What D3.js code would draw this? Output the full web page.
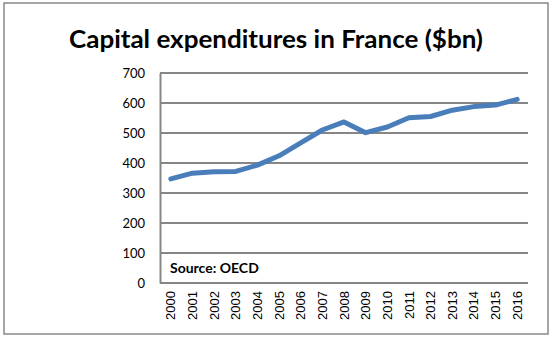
<!DOCTYPE html>
<html>
<head>
<meta charset="utf-8">
<script src="https://cdn.jsdelivr.net/npm/d3@7"></script>
<style>
  body { margin: 0; background: #fff; }
  text { font-family: Lato, "Open Sans", sans-serif; }
</style>
</head>
<body>
<script>
// yearly capital expenditures, $bn
var years = ["2000","2001","2002","2003","2004","2005","2006","2007","2008",
             "2009","2010","2011","2012","2013","2014","2015","2016"];
var capex = [347, 366, 371, 372, 393, 424, 467, 510, 537,
             501, 520, 551, 555, 576, 588, 593, 612];
var yTicks = [0, 100, 200, 300, 400, 500, 600, 700];

var width = 551, height = 337;

var svg = d3.select("body").append("svg")
    .attr("width", width)
    .attr("height", height);

// chart frame
svg.append("rect")
    .attr("x", 4).attr("y", 3)
    .attr("width", 544).attr("height", 331)
    .attr("fill", "#fff")
    .attr("stroke", "#888")
    .attr("stroke-width", 1.5);

svg.append("text")
    .attr("x", 276).attr("y", 48)
    .attr("text-anchor", "middle")
    .attr("font-size", 25)
    .attr("font-weight", "bold")
    .attr("textLength", 414)
    .attr("lengthAdjust", "spacingAndGlyphs")
    .text("Capital expenditures in France ($bn)");

var x = d3.scaleBand().domain(years).range([160, 528]);
var y = d3.scaleLinear().domain([0, 700]).range([283, 73]);

// gridlines
svg.append("g")
    .selectAll("line")
    .data(yTicks)
    .enter()
    .append("line")
    .attr("x1", 160).attr("x2", 528)
    .attr("y1", function(d){ return y(d); })
    .attr("y2", function(d){ return y(d); })
    .attr("stroke", "#868686")
    .attr("stroke-width", 2);

// y axis
var yAxis = svg.append("g")
    .attr("transform", "translate(160,0)")
    .call(d3.axisLeft(y).tickValues(yTicks).tickSize(0).tickPadding(15));
yAxis.select(".domain").attr("stroke", "#868686").attr("stroke-width", 2);
yAxis.selectAll("text")
    .attr("font-size", 13)
    .attr("fill", "#000")
    .style("font-family", "Lato, sans-serif");

// x axis with rotated year labels
var xAxis = svg.append("g")
    .attr("transform", "translate(0,283)")
    .call(d3.axisBottom(x).tickSize(0));
xAxis.select(".domain").remove();
xAxis.selectAll("text")
    .attr("font-size", 13)
    .attr("fill", "#000")
    .style("font-family", "'Liberation Sans', Arial, sans-serif")
    .attr("text-anchor", "end")
    .attr("transform", "rotate(-90)")
    .attr("x", -8)
    .attr("y", 0)
    .attr("dy", "0.35em");

// series line
var line = d3.line()
    .x(function(d, i){ return x(years[i]) + x.bandwidth() / 2; })
    .y(function(d){ return y(d); });

svg.append("path")
    .datum(capex)
    .attr("d", line)
    .attr("fill", "none")
    .attr("stroke", "#4a7ebb")
    .attr("stroke-width", 5)
    .attr("stroke-linejoin", "round")
    .attr("stroke-linecap", "round");

svg.append("text")
    .attr("x", 170).attr("y", 273)
    .attr("font-size", 14)
    .attr("font-weight", "bold")
    .text("Source: OECD");
</script>
</body>
</html>
